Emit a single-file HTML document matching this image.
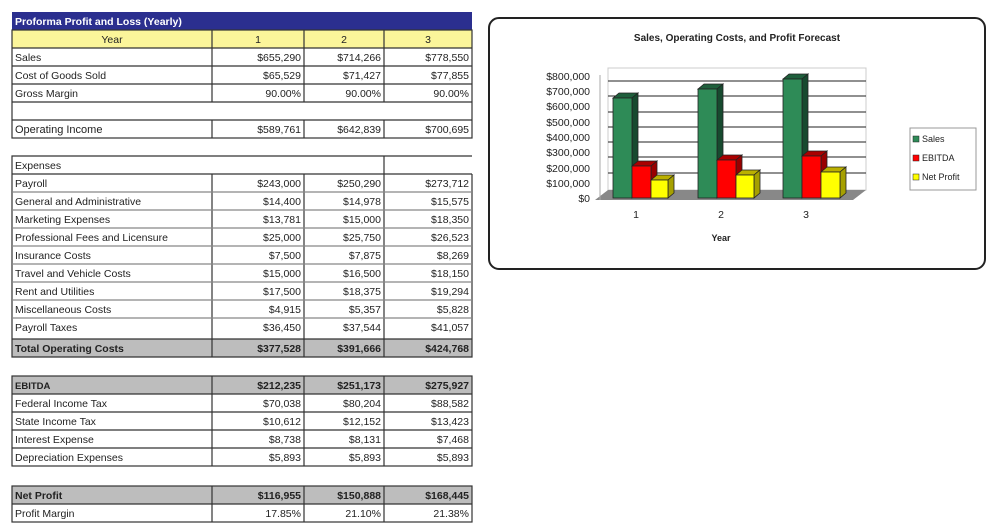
<!DOCTYPE html>
<html><head><meta charset="utf-8"><style>
html,body{margin:0;padding:0;background:#fff;width:1000px;height:532px;overflow:hidden}
svg{display:block}
text{font-family:"Liberation Sans",sans-serif;font-size:10.5px;fill:#222}
.r{text-anchor:end}
.b{font-weight:bold}
</style></head><body>
<svg width="1000" height="532" viewBox="0 0 1000 532">
<!-- header -->
<rect x="12" y="12" width="460" height="18" fill="#2b2f8f"/>
<text x="15" y="25" class="b" style="fill:#fff">Proforma Profit and Loss (Yearly)</text>
<rect x="12" y="30" width="460" height="18" fill="#fbf59a"/>
<g stroke="#333" stroke-width="1.2" fill="none">
<rect x="12" y="30" width="460" height="108"/>
<line x1="12" y1="48" x2="472" y2="48"/><line x1="12" y1="66" x2="472" y2="66"/><line x1="12" y1="84" x2="472" y2="84"/><line x1="12" y1="102" x2="472" y2="102"/><line x1="12" y1="120" x2="472" y2="120"/>
<line x1="212" y1="30" x2="212" y2="102"/><line x1="304" y1="30" x2="304" y2="102"/><line x1="384" y1="30" x2="384" y2="102"/>
<line x1="212" y1="120" x2="212" y2="138"/><line x1="304" y1="120" x2="304" y2="138"/><line x1="384" y1="120" x2="384" y2="138"/>
</g>
<text x="112" y="43" text-anchor="middle">Year</text><text x="258" y="43" text-anchor="middle">1</text><text x="344" y="43" text-anchor="middle">2</text><text x="428" y="43" text-anchor="middle">3</text>
<text x="15" y="61">Sales</text><text class="r" x="301" y="61">$655,290</text><text class="r" x="381" y="61">$714,266</text><text class="r" x="469" y="61">$778,550</text>
<text x="15" y="79">Cost of Goods Sold</text><text class="r" x="301" y="79">$65,529</text><text class="r" x="381" y="79">$71,427</text><text class="r" x="469" y="79">$77,855</text>
<text x="15" y="97">Gross Margin</text><text class="r" x="301" y="97">90.00%</text><text class="r" x="381" y="97">90.00%</text><text class="r" x="469" y="97">90.00%</text>
<text x="15" y="133" style="font-size:11px">Operating Income</text><text class="r" x="301" y="133">$589,761</text><text class="r" x="381" y="133">$642,839</text><text class="r" x="469" y="133">$700,695</text>

<!-- expenses -->
<rect x="12" y="339" width="460" height="18" fill="#bdbdbd"/>
<g stroke="#333" stroke-width="1.2" fill="none">
<polyline points="472,156 12,156 12,357 472,357 472,174"/>
<line x1="384" y1="156" x2="384" y2="357"/>
<line x1="212" y1="174" x2="212" y2="357"/><line x1="304" y1="174" x2="304" y2="357"/>
<line x1="12" y1="174" x2="472" y2="174"/>
<line x1="12" y1="192" x2="472" y2="192" stroke="#888"/><line x1="12" y1="210" x2="472" y2="210" stroke="#888"/><line x1="12" y1="228" x2="472" y2="228" stroke="#888"/><line x1="12" y1="246" x2="472" y2="246" stroke="#888"/><line x1="12" y1="264" x2="472" y2="264" stroke="#888"/><line x1="12" y1="282" x2="472" y2="282" stroke="#888"/><line x1="12" y1="300" x2="472" y2="300" stroke="#888"/><line x1="12" y1="318" x2="472" y2="318" stroke="#888"/>
<line x1="12" y1="339" x2="472" y2="339"/>
</g>
<text x="15" y="169">Expenses</text>
<g style="font-size:9.5px">
<text x="15" y="187">Payroll</text><text class="r" x="301" y="187">$243,000</text><text class="r" x="381" y="187">$250,290</text><text class="r" x="469" y="187">$273,712</text>
<text x="15" y="205">General and Administrative</text><text class="r" x="301" y="205">$14,400</text><text class="r" x="381" y="205">$14,978</text><text class="r" x="469" y="205">$15,575</text>
<text x="15" y="223">Marketing Expenses</text><text class="r" x="301" y="223">$13,781</text><text class="r" x="381" y="223">$15,000</text><text class="r" x="469" y="223">$18,350</text>
<text x="15" y="241">Professional Fees and Licensure</text><text class="r" x="301" y="241">$25,000</text><text class="r" x="381" y="241">$25,750</text><text class="r" x="469" y="241">$26,523</text>
<text x="15" y="259">Insurance Costs</text><text class="r" x="301" y="259">$7,500</text><text class="r" x="381" y="259">$7,875</text><text class="r" x="469" y="259">$8,269</text>
<text x="15" y="277">Travel and Vehicle Costs</text><text class="r" x="301" y="277">$15,000</text><text class="r" x="381" y="277">$16,500</text><text class="r" x="469" y="277">$18,150</text>
<text x="15" y="295">Rent and Utilities</text><text class="r" x="301" y="295">$17,500</text><text class="r" x="381" y="295">$18,375</text><text class="r" x="469" y="295">$19,294</text>
<text x="15" y="313">Miscellaneous Costs</text><text class="r" x="301" y="313">$4,915</text><text class="r" x="381" y="313">$5,357</text><text class="r" x="469" y="313">$5,828</text>
<text x="15" y="331">Payroll Taxes</text><text class="r" x="301" y="331">$36,450</text><text class="r" x="381" y="331">$37,544</text><text class="r" x="469" y="331">$41,057</text>
</g>
<text x="15" y="352" class="b">Total Operating Costs</text><text class="r b" x="301" y="352">$377,528</text><text class="r b" x="381" y="352">$391,666</text><text class="r b" x="469" y="352">$424,768</text>

<!-- EBITDA -->
<rect x="12" y="376" width="460" height="18" fill="#bdbdbd"/>
<g stroke="#333" stroke-width="1.2" fill="none">
<rect x="12" y="376" width="460" height="90"/>
<line x1="12" y1="394" x2="472" y2="394"/><line x1="12" y1="412" x2="472" y2="412"/><line x1="12" y1="430" x2="472" y2="430"/><line x1="12" y1="448" x2="472" y2="448"/>
<line x1="212" y1="376" x2="212" y2="466"/><line x1="304" y1="376" x2="304" y2="466"/><line x1="384" y1="376" x2="384" y2="466"/>
</g>
<text x="15" y="389" class="b" style="font-size:9.5px">EBITDA</text><text class="r b" x="301" y="389">$212,235</text><text class="r b" x="381" y="389">$251,173</text><text class="r b" x="469" y="389">$275,927</text>
<text x="15" y="407">Federal Income Tax</text><text class="r" x="301" y="407">$70,038</text><text class="r" x="381" y="407">$80,204</text><text class="r" x="469" y="407">$88,582</text>
<text x="15" y="425">State Income Tax</text><text class="r" x="301" y="425">$10,612</text><text class="r" x="381" y="425">$12,152</text><text class="r" x="469" y="425">$13,423</text>
<text x="15" y="443">Interest Expense</text><text class="r" x="301" y="443">$8,738</text><text class="r" x="381" y="443">$8,131</text><text class="r" x="469" y="443">$7,468</text>
<text x="15" y="461">Depreciation Expenses</text><text class="r" x="301" y="461">$5,893</text><text class="r" x="381" y="461">$5,893</text><text class="r" x="469" y="461">$5,893</text>

<!-- Net profit -->
<rect x="12" y="486" width="460" height="18" fill="#bdbdbd"/>
<g stroke="#333" stroke-width="1.2" fill="none">
<rect x="12" y="486" width="460" height="36"/>
<line x1="12" y1="504" x2="472" y2="504"/>
<line x1="212" y1="486" x2="212" y2="522"/><line x1="304" y1="486" x2="304" y2="522"/><line x1="384" y1="486" x2="384" y2="522"/>
</g>
<text x="15" y="499" class="b">Net Profit</text><text class="r b" x="301" y="499">$116,955</text><text class="r b" x="381" y="499">$150,888</text><text class="r b" x="469" y="499">$168,445</text>
<text x="15" y="517">Profit Margin</text><text class="r" x="301" y="517">17.85%</text><text class="r" x="381" y="517">21.10%</text><text class="r" x="469" y="517">21.38%</text>

<!-- chart -->
<rect x="489" y="18" width="496" height="251" rx="10" fill="#fff" stroke="#222" stroke-width="2"/>
<text x="737" y="41" text-anchor="middle" class="b" style="font-size:10px">Sales, Operating Costs, and Profit Forecast</text>
<!-- back wall -->
<rect x="608" y="68" width="258" height="122" fill="#fff" stroke="#ccc"/>
<g stroke="#222" stroke-width="1">
<line x1="608" y1="81" x2="866" y2="81"/><line x1="608" y1="96" x2="866" y2="96"/><line x1="608" y1="112" x2="866" y2="112"/><line x1="608" y1="127" x2="866" y2="127"/><line x1="608" y1="142" x2="866" y2="142"/><line x1="608" y1="157" x2="866" y2="157"/><line x1="608" y1="173" x2="866" y2="173"/>
</g>
<polygon points="595,200 608,190 866,190 853,200" fill="#888"/>
<line x1="600" y1="200" x2="600" y2="75" stroke="#aaa"/>
<g style="font-size:9px" text-anchor="end">
<text x="590" y="80">$800,000</text><text x="590" y="95">$700,000</text><text x="590" y="110">$600,000</text><text x="590" y="126">$500,000</text><text x="590" y="141">$400,000</text><text x="590" y="156">$300,000</text><text x="590" y="172">$200,000</text><text x="590" y="187">$100,000</text><text x="590" y="202">$0</text>
</g>
<!-- bars: front face, top, side -->
<g stroke="#222" stroke-width="0.8">
<!-- group 1 -->
<polygon points="613,98 619,93 638,93 632,98" fill="#1f5f3c"/><polygon points="632,98 638,93 638,193 632,198" fill="#174a2f"/><rect x="613" y="98" width="19" height="100" fill="#2e8b57"/>
<polygon points="632,166 638,161 657,161 651,166" fill="#a00"/><polygon points="651,166 657,161 657,193 651,198" fill="#900"/><rect x="632" y="166" width="19" height="32" fill="#f00"/>
<polygon points="651,180 657,175 674,175 668,180" fill="#bbb000"/><polygon points="668,180 674,175 674,193 668,198" fill="#a6a000"/><rect x="651" y="180" width="17" height="18" fill="#ff0"/>
<!-- group 2 -->
<polygon points="698,89 704,84 723,84 717,89" fill="#1f5f3c"/><polygon points="717,89 723,84 723,193 717,198" fill="#174a2f"/><rect x="698" y="89" width="19" height="109" fill="#2e8b57"/>
<polygon points="717,160 723,155 742,155 736,160" fill="#a00"/><polygon points="736,160 742,155 742,193 736,198" fill="#900"/><rect x="717" y="160" width="19" height="38" fill="#f00"/>
<polygon points="736,175 742,170 760,170 754,175" fill="#bbb000"/><polygon points="754,175 760,170 760,193 754,198" fill="#a6a000"/><rect x="736" y="175" width="18" height="23" fill="#ff0"/>
<!-- group 3 -->
<polygon points="783,79 789,74 808,74 802,79" fill="#1f5f3c"/><polygon points="802,79 808,74 808,193 802,198" fill="#174a2f"/><rect x="783" y="79" width="19" height="119" fill="#2e8b57"/>
<polygon points="802,156 808,151 827,151 821,156" fill="#a00"/><polygon points="821,156 827,151 827,193 821,198" fill="#900"/><rect x="802" y="156" width="19" height="42" fill="#f00"/>
<polygon points="821,172 827,167 846,167 840,172" fill="#bbb000"/><polygon points="840,172 846,167 846,193 840,198" fill="#a6a000"/><rect x="821" y="172" width="19" height="26" fill="#ff0"/>
</g>
<g style="font-size:10px" text-anchor="middle">
<text x="636" y="218">1</text><text x="721" y="218">2</text><text x="806" y="218">3</text>
<text x="721" y="241" class="b" style="font-size:9px">Year</text>
</g>
<rect x="910" y="128" width="66" height="62" fill="#fff" stroke="#999"/>
<rect x="913" y="136" width="6" height="6" fill="#2e8b57" stroke="#222" stroke-width="0.5"/><text x="922" y="142" style="font-size:9px">Sales</text>
<rect x="913" y="155" width="6" height="6" fill="#f00" stroke="#222" stroke-width="0.5"/><text x="922" y="161" style="font-size:9px">EBITDA</text>
<rect x="913" y="174" width="6" height="6" fill="#ff0" stroke="#222" stroke-width="0.5"/><text x="922" y="180" style="font-size:9px">Net Profit</text>
</svg>
</body></html>
